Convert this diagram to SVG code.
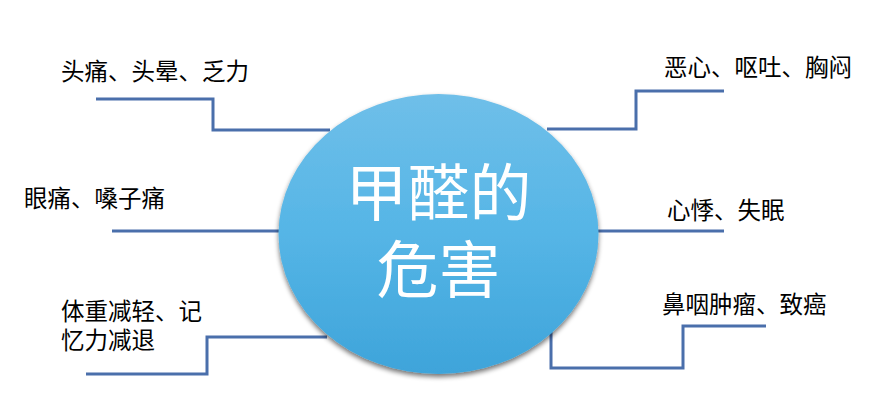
<svg xmlns="http://www.w3.org/2000/svg" width="878" height="417" viewBox="0 0 878 417">
<defs>
<linearGradient id="g" x1="0" y1="0" x2="0" y2="1">
<stop offset="0" stop-color="#6fbfe9"/>
<stop offset="0.5" stop-color="#55b5e6"/>
<stop offset="1" stop-color="#3ea4da"/>
</linearGradient>
<filter id="sh" x="-10%" y="-10%" width="120%" height="125%">
<feGaussianBlur in="SourceAlpha" stdDeviation="2.5"/>
<feOffset dx="0" dy="3" result="b"/>
<feComponentTransfer><feFuncA type="linear" slope="0.55"/></feComponentTransfer>
<feMerge><feMergeNode/><feMergeNode in="SourceGraphic"/></feMerge>
</filter>
<style>
.c{fill:none;stroke:#4a6fab;stroke-width:3}
.t{font-family:"Noto Sans CJK SC","Noto Sans CJK JP",sans-serif;font-size:23.5px;fill:#000}
.m{font-family:"Noto Sans CJK SC","Noto Sans CJK JP",sans-serif;font-size:62px;fill:#fff;text-anchor:middle}
</style>
</defs>
<rect width="878" height="417" fill="#fff"/>
<g id="connectors">
<polyline class="c" points="96,99 213,99 213,130 330,130"/>
<polyline class="c" points="547,129 636,129 636,91 724,91"/>
<polyline class="c" points="112,231 282,231"/>
<polyline class="c" points="596,231 724,231"/>
<polyline class="c" points="86,374 207,374 207,337 327,337"/>
<polyline class="c" points="551,332 551,368 683,368 683,326 766,326"/>
</g>
<g id="center">
<ellipse cx="438.5" cy="234" rx="160" ry="140" fill="url(#g)" filter="url(#sh)"/>
<text class="m"><tspan x="438.5" y="216">甲醛的</tspan><tspan x="438.5" y="293">危害</tspan></text>
</g>
<g id="n1"><text class="t" x="61" y="80">头痛、头晕、乏力</text></g>
<g id="n2"><text class="t" x="24" y="207">眼痛、嗓子痛</text></g>
<g id="n3"><text class="t"><tspan x="61" y="320">体重减轻、记</tspan><tspan x="61" y="349">忆力减退</tspan></text></g>
<g id="n4"><text class="t" x="664" y="76">恶心、呕吐、胸闷</text></g>
<g id="n5"><text class="t" x="667" y="219">心悸、失眠</text></g>
<g id="n6"><text class="t" x="662" y="313">鼻咽肿瘤、致癌</text></g>
</svg>
